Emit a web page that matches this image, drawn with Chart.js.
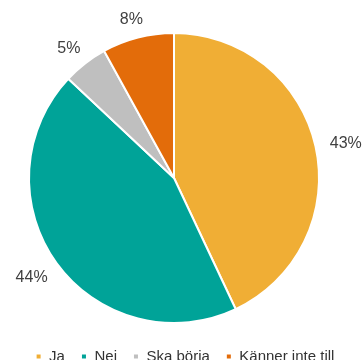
<!DOCTYPE html>
<html>
<head>
<meta charset="utf-8">
<script src="https://cdn.jsdelivr.net/npm/chart.js@4/dist/chart.umd.min.js"></script>
<style>
  html, body { margin: 0; padding: 0; background: #fff; overflow: hidden; }
  #wrap { position: relative; width: 362px; height: 365px; }
</style>
</head>
<body>
<div id="wrap"><canvas id="pie"></canvas></div>
<script>
const categories = ['Ja', 'Nei', 'Ska börja', 'Känner inte till'];
const shares = [43, 44, 5, 8];
const colors = ['#F0AE35', '#00A398', '#BFBFBF', '#E36C0A'];

// percent labels outside each slice, pushed out by half the text box
const outsideLabels = {
    id: 'outsideLabels',
    afterDatasetsDraw(chart) {
        const ctx = chart.ctx;
        const meta = chart.getDatasetMeta(0);
        ctx.save();
        ctx.font = '16px "Liberation Sans", Arial, sans-serif';
        ctx.fillStyle = '#404040';
        ctx.textAlign = 'center';
        ctx.textBaseline = 'middle';
        meta.data.forEach((arc, i) => {
            const text = shares[i] + '%';
            const w = ctx.measureText(text).width;
            const mid = (arc.startAngle + arc.endAngle) / 2;
            const cx = Math.cos(mid), cy = Math.sin(mid);
            const r = arc.outerRadius + 15;
            const x = arc.x + cx * r + cx * w / 2;
            const y = arc.y + cy * r + cy * 6 + 2;
            ctx.fillText(text, x, y);
        });
        ctx.restore();
    }
};

// move the legend row a bit right and down, pie stays where it is
const legendShift = {
    id: 'legendShift',
    afterLayout(chart) {
        chart.legend.left += 11;
        chart.legend.right += 11;
        chart.legend.top += 9;
        chart.legend.bottom += 9;
    }
};

new Chart(document.getElementById('pie'), {
    type: 'pie',
    data: {
        labels: categories,
        datasets: [{
            data: shares,
            backgroundColor: colors,
            borderColor: '#fff',
            borderWidth: 2,
        }],
    },
    options: {
        responsive: true,
        maintainAspectRatio: false,
        animation: false,
        layout: { padding: { left: 0, right: 14, top: 32, bottom: 0 } },
        plugins: {
            tooltip: { enabled: false },
            legend: {
                position: 'bottom',
                labels: {
                    boxWidth: 6,
                    boxHeight: 6,
                    padding: 16,
                    color: '#333',
                    font: { size: 15, family: '"Liberation Sans", Arial, sans-serif' },
                },
            },
        },
    },
    plugins: [outsideLabels, legendShift],
});
</script>
</body>
</html>
